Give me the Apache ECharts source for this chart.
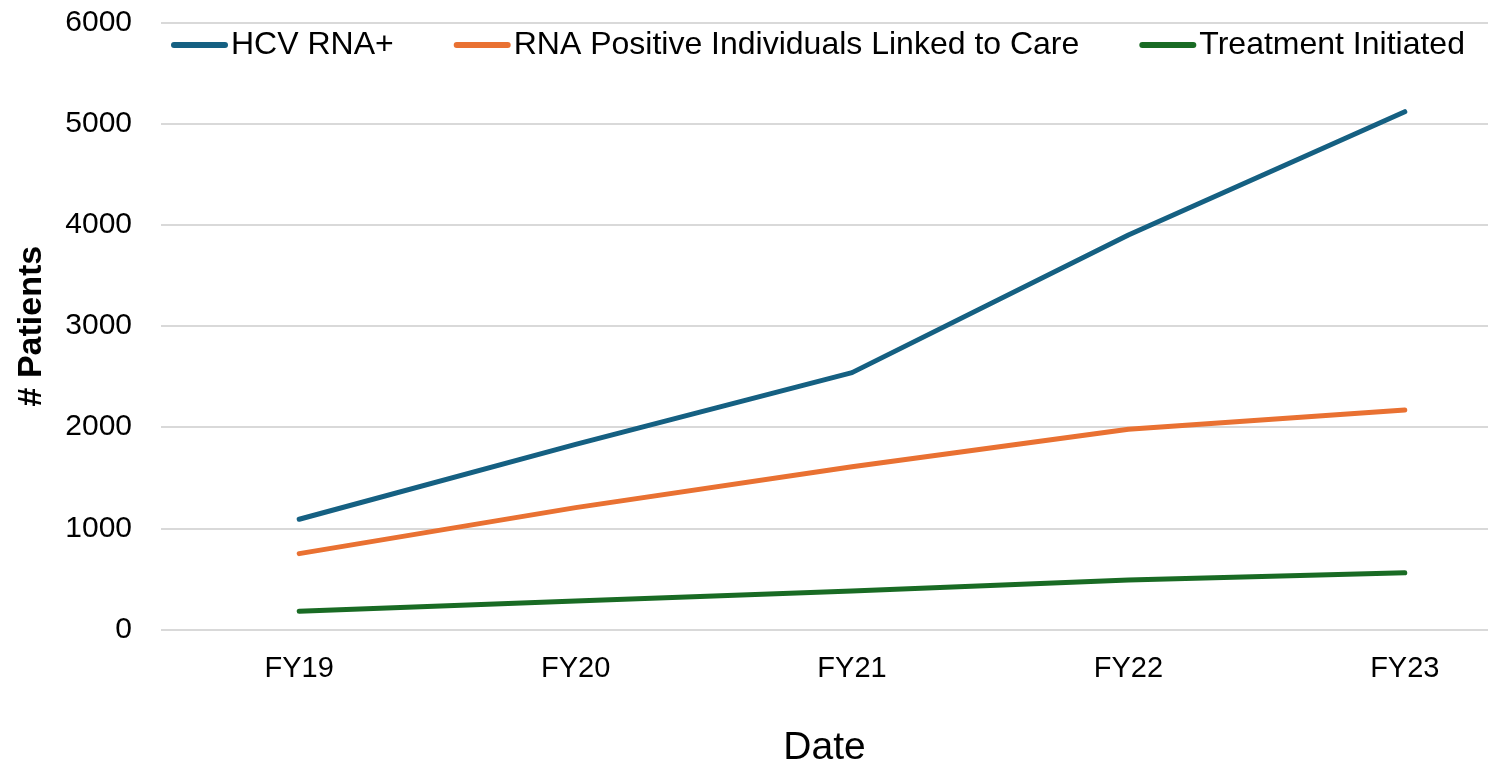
<!DOCTYPE html>
<html>
<head>
<meta charset="utf-8">
<title>HCV Care Cascade</title>
<script src="https://cdn.jsdelivr.net/npm/echarts@6/dist/echarts.min.js"></script>
<style>
  html, body { margin: 0; padding: 0; background: #ffffff; }
  #chart { width: 1488px; height: 766px; }
</style>
</head>
<body>
<div id="chart"></div>
<script>
// Fiscal years on the x axis
const years = ['FY19', 'FY20', 'FY21', 'FY22', 'FY23'];

// Patient counts per fiscal year
const hcvRnaPositive = [1090, 1830, 2540, 3900, 5120];
const linkedToCare = [750, 1205, 1610, 1980, 2170];
const treatmentInitiated = [180, 282, 380, 490, 560];

const seriesNames = ['HCV RNA+', 'RNA Positive Individuals Linked to Care', 'Treatment Initiated'];
const seriesColors = ['#156082', '#E97132', '#196B24'];

const font = '"Liberation Sans", Arial, sans-serif';
const pill = 'path://M3,0 L54,0 A3,3 0 0 1 54,6 L3,6 A3,3 0 0 1 3,0 Z';

const chart = echarts.init(document.getElementById('chart'), null, { renderer: 'canvas' });

const makeLine = (name, data, color) => ({
  name: name,
  type: 'line',
  data: data,
  showSymbol: false,
  symbol: 'none',
  smooth: false,
  color: color,
  lineStyle: { width: 5, color: color, cap: 'round', join: 'round' },
  emphasis: { disabled: true }
});

chart.setOption({
  animation: false,
  textStyle: { fontFamily: font },
  grid: {
    left: 161, top: 22.7, right: -55, bottom: 136.5,
    containLabel: false, outerBoundsMode: 'none'
  },
  legend: {
    top: 24,
    left: 166,
    itemWidth: 57,
    itemHeight: 6,
    itemGap: 60,
    icon: pill,
    textStyle: { fontSize: 32, color: '#000000', fontFamily: font, padding: [0, 0, 0, -2] },
    data: seriesNames
  },
  xAxis: {
    type: 'category',
    data: years,
    boundaryGap: true,
    name: 'Date',
    nameLocation: 'middle',
    nameGap: 99,
    // right padding pulls the title back to the centre of the visible plot
    nameTextStyle: { fontSize: 39, color: '#000000', fontFamily: font, padding: [0, 55, 0, 0] },
    axisLine: { show: false },
    axisTick: { show: false },
    axisLabel: { fontSize: 29, color: '#000000', margin: 25, fontFamily: font }
  },
  yAxis: {
    type: 'value',
    min: 0,
    max: 6000,
    interval: 1000,
    name: '# Patients',
    nameLocation: 'middle',
    nameGap: 112,
    nameRotate: 90,
    nameTextStyle: { fontSize: 34, fontWeight: 'bold', color: '#000000', fontFamily: font },
    axisLine: { show: false },
    axisTick: { show: false },
    axisLabel: {
      fontSize: 30, color: '#000000', margin: 29, fontFamily: font,
      formatter: (v) => String(v)
    },
    splitLine: { show: true, lineStyle: { color: '#d9d9d9', width: 2 } }
  },
  series: [
    makeLine(seriesNames[0], hcvRnaPositive, seriesColors[0]),
    makeLine(seriesNames[1], linkedToCare, seriesColors[1]),
    makeLine(seriesNames[2], treatmentInitiated, seriesColors[2])
  ]
});
</script>
</body>
</html>
